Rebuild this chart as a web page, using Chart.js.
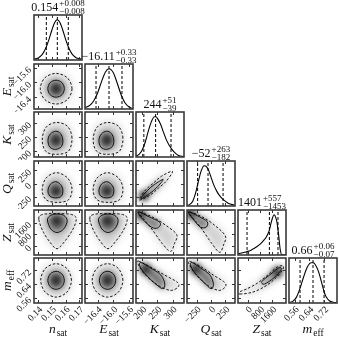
<!DOCTYPE html>
<html>
<head>
<meta charset="utf-8">
<script src="https://cdn.jsdelivr.net/npm/chart.js@4.4.0/dist/chart.umd.min.js"></script>
<style>
html, body { margin: 0; padding: 0; background: #fff; overflow: hidden; }
#wrap { position: relative; width: 339px; height: 339px; }
#wrap canvas { position: absolute; }
</style>
</head>
<body>
<div id="wrap"></div>
<script>
// parameters of the corner plot
var labelMain = ['n', 'E', 'K', 'Q', 'Z', 'm'];
var labelSub = ['sat', 'sat', 'sat', 'sat', 'sat', 'eff'];
var axisMin = [0.137, -16.72, 179, -420, -640, 0.53];
var axisMax = [0.172, -15.50, 338, 420, 2480, 0.79];
var tickVals = [[0.14, 0.15, 0.16, 0.17], [-16.4, -16.0, -15.6], [200, 250, 300], [-250, 0, 250], [0, 800, 1600], [0.56, 0.64, 0.72]];
var tickText = [['0.14', '0.15', '0.16', '0.17'], ['−16.4', '−16.0', '−15.6'], ['200', '250', '300'], ['−250', '0', '250'], ['0', '800', '1600'], ['0.56', '0.64', '0.72']];

// medians and 16/84 % errors
var medians = [0.154, -16.11, 244, -52, 1401, 0.66];
var errPlus = [0.008, 0.33, 51, 263, 557, 0.06];
var errMinus = [0.008, 0.33, 39, 182, 1453, 0.07];
var medText = ['0.154', '−16.11', '244', '−52', '1401', '0.66'];
var plusText = ['+0.008', '+0.33', '+51', '+263', '+557', '+0.06'];
var minusText = ['−0.008', '−0.33', '−39', '−182', '−1453', '−0.07'];

// 1d marginals (relative height)
var nHistX = [0.137, 0.140, 0.142, 0.144, 0.146, 0.148, 0.150, 0.152, 0.154, 0.156, 0.158, 0.160, 0.162, 0.164, 0.166, 0.168, 0.172];
var nHistY = [0.02, 0.05, 0.10, 0.19, 0.33, 0.52, 0.74, 0.93, 1.0, 0.93, 0.74, 0.52, 0.33, 0.19, 0.10, 0.05, 0.02];
var eHistX = [-16.72, -16.6, -16.5, -16.4, -16.3, -16.2, -16.11, -16.0, -15.9, -15.8, -15.7, -15.6, -15.5];
var eHistY = [0.03, 0.09, 0.2, 0.4, 0.68, 0.92, 1.0, 0.9, 0.64, 0.35, 0.15, 0.05, 0.01];
var kHistX = [179, 190, 200, 210, 220, 230, 240, 245, 250, 260, 270, 280, 290, 300, 310, 320, 338];
var kHistY = [0.02, 0.07, 0.18, 0.38, 0.65, 0.88, 1.0, 1.0, 0.96, 0.82, 0.62, 0.42, 0.28, 0.17, 0.09, 0.04, 0.01];
var qHistX = [-420, -370, -320, -270, -220, -170, -120, -80, -40, 0, 50, 100, 150, 200, 250, 300, 360, 420];
var qHistY = [0.01, 0.04, 0.12, 0.32, 0.62, 0.88, 1.0, 0.98, 0.88, 0.72, 0.52, 0.37, 0.26, 0.18, 0.12, 0.07, 0.04, 0.02];
var zHistX = [-640, -400, -200, 0, 200, 400, 600, 800, 1000, 1200, 1400, 1500, 1600, 1700, 1800, 1900, 2000, 2100, 2200, 2480];
var zHistY = [0.03, 0.05, 0.07, 0.09, 0.12, 0.16, 0.21, 0.27, 0.35, 0.45, 0.62, 0.78, 0.92, 1.0, 0.95, 0.8, 0.5, 0.15, 0.01, 0];
var mHistX = [0.53, 0.55, 0.57, 0.59, 0.61, 0.63, 0.65, 0.66, 0.67, 0.69, 0.71, 0.72, 0.73, 0.75, 0.77, 0.79];
var mHistY = [0.01, 0.04, 0.14, 0.37, 0.66, 0.9, 1.0, 1.0, 0.97, 0.78, 0.45, 0.28, 0.16, 0.05, 0.02, 0.01];

// 2d contours: outer (dashed), inner (solid), density peak  [x, y]
var E_n_outer = [[0.1647, -16.17], [0.1613, -15.875], [0.1531, -15.755], [0.1449, -15.875], [0.1416, -16.17], [0.1449, -16.465], [0.1531, -16.585], [0.1613, -16.465]];
var E_n_inner = [[0.1591, -16.17], [0.1574, -16.007], [0.1531, -15.94], [0.1488, -16.007], [0.1471, -16.17], [0.1488, -16.333], [0.1531, -16.40], [0.1574, -16.333]];
var E_n_peak = [[0.1531, -16.17]];

var K_n_outer = [[0.1647, 246], [0.1615, 287], [0.1535, 301], [0.1458, 284], [0.1430, 239], [0.1458, 198], [0.1538, 188.5], [0.1622, 200]];
var K_n_inner = [[0.158, 239], [0.1563, 262], [0.1528, 270], [0.1489, 260], [0.1472, 238], [0.1486, 214], [0.1528, 206], [0.157, 216]];
var K_n_peak = [[0.1531, 239]];
var K_E_outer = [[-15.756, 246], [-15.866, 287], [-16.147, 301], [-16.415, 284], [-16.513, 239], [-16.415, 198], [-16.134, 188.5], [-15.842, 200]];
var K_E_inner = [[-15.988, 239], [-16.049, 262], [-16.171, 270], [-16.305, 260], [-16.366, 238], [-16.317, 214], [-16.171, 206], [-16.025, 216]];
var K_E_peak = [[-16.159, 239]];

var Q_n_outer = [[0.1647, -101], [0.1615, 101], [0.1535, 202], [0.1458, 101], [0.1430, -118], [0.1458, -302], [0.1538, -353], [0.1622, -302]];
var Q_n_inner = [[0.158, -118], [0.1563, -17], [0.1528, 34], [0.1489, -17], [0.1472, -134], [0.1486, -235], [0.1528, -269], [0.157, -235]];
var Q_n_peak = [[0.1531, -143]];
var Q_E_outer = [[-15.756, -101], [-15.866, 101], [-16.147, 202], [-16.415, 101], [-16.513, -118], [-16.415, -302], [-16.134, -353], [-15.842, -302]];
var Q_E_inner = [[-15.988, -118], [-16.049, -17], [-16.171, 34], [-16.305, -17], [-16.366, -134], [-16.317, -235], [-16.171, -269], [-16.025, -235]];
var Q_E_peak = [[-16.159, -143]];
var Q_K_outer = [[190, -305], [226, -215], [253, -87], [279, 42], [300, 228], [264, 138], [237, 9], [211, -120]];
var Q_K_inner = [[195, -285], [224, -189], [248, -73], [269, 75], [240, -19], [216, -135]];
var Q_K_peak = [[205, -230]];

var Z_n_outer = [[0.1405, 1856], [0.1433, 2168], [0.1535, 2230], [0.1643, 2168], [0.1678, 1856], [0.165, 1076], [0.158, 140], [0.1538, -203], [0.1503, 46], [0.144, 920]];
var Z_n_inner = [[0.1468, 1794], [0.14925, 2106], [0.1538, 2199], [0.1587, 2106], [0.1612, 1731], [0.1587, 1170], [0.1538, 920], [0.14925, 1170]];
var Z_n_peak = [[0.1535, 1731]];
var Z_E_outer = [[-16.598, 1856], [-16.50, 2168], [-16.147, 2230], [-15.768, 2168], [-15.646, 1856], [-15.744, 1076], [-15.988, 140], [-16.134, -203], [-16.256, 46], [-16.476, 920]];
var Z_E_inner = [[-16.378, 1794], [-16.293, 2106], [-16.134, 2199], [-15.964, 2106], [-15.878, 1731], [-15.964, 1170], [-16.134, 920], [-16.293, 1170]];
var Z_E_peak = [[-16.147, 1731]];
var Z_K_outer = [[191.7, 2324], [234.7, 1981], [277.6, 1419], [314, 764], [306, 140], [293.5, -390], [266.5, 140], [226.7, 1294], [191.7, 2168]];
var Z_K_inner = [[188.5, 2355], [218.8, 2043], [258.5, 1606], [250.6, 1232], [229.9, 1294], [202.9, 1794], [187, 2230]];
var Z_K_peak = [[194.9, 2168]];
var Z_Q_outer = [[-370, 2324], [-143, 1981], [84, 1357], [252, 670], [218, 46], [151, -453], [17, 140], [-185, 1294], [-370, 2168]];
var Z_Q_inner = [[-378, 2355], [-235, 2074], [-67, 1669], [-84, 1294], [-185, 1294], [-302, 1794], [-386, 2230]];
var Z_Q_peak = [[-353, 2199]];

var m_n_outer = [[0.1643, 0.661], [0.1610, 0.729], [0.1531, 0.757], [0.1452, 0.729], [0.1419, 0.661], [0.1452, 0.593], [0.1531, 0.564], [0.1610, 0.593]];
var m_n_inner = [[0.1591, 0.661], [0.1573, 0.698], [0.1531, 0.713], [0.1489, 0.698], [0.1471, 0.661], [0.1489, 0.624], [0.1531, 0.609], [0.1573, 0.624]];
var m_n_peak = [[0.1531, 0.661]];
var m_E_outer = [[-15.757, 0.661], [-15.871, 0.729], [-16.147, 0.757], [-16.423, 0.729], [-16.537, 0.661], [-16.423, 0.593], [-16.147, 0.564], [-15.871, 0.593]];
var m_E_inner = [[-15.94, 0.661], [-16.0, 0.698], [-16.147, 0.713], [-16.294, 0.698], [-16.354, 0.661], [-16.294, 0.624], [-16.147, 0.609], [-16.0, 0.624]];
var m_E_peak = [[-16.147, 0.661]];
var m_K_outer = [[187, 0.772], [226.7, 0.738], [274.4, 0.691], [315.7, 0.650], [318.9, 0.624], [293.5, 0.603], [250.6, 0.634], [210.8, 0.691], [187, 0.751]];
var m_K_inner = [[194.9, 0.764], [226.7, 0.733], [261.7, 0.691], [274.4, 0.639], [266.5, 0.613], [239.4, 0.647], [207.6, 0.702], [191.7, 0.743]];
var m_K_peak = [[210.8, 0.725]];
var m_Q_outer = [[-378, 0.772], [-168, 0.738], [42, 0.691], [235, 0.650], [252, 0.624], [134, 0.603], [-67, 0.634], [-252, 0.691], [-378, 0.751]];
var m_Q_inner = [[-336, 0.764], [-185, 0.733], [-17, 0.691], [42, 0.639], [0, 0.613], [-118, 0.647], [-277, 0.702], [-353, 0.743]];
var m_Q_peak = [[-269, 0.725]];
var m_Z_outer = [[-515, 0.582], [296, 0.592], [1076, 0.624], [1700, 0.665], [2230, 0.717], [2293, 0.743], [1918, 0.738], [1294, 0.691], [608, 0.644], [-78, 0.611], [-515, 0.595]];
var m_Z_inner = [[1076, 0.639], [1700, 0.676], [2168, 0.722], [2012, 0.733], [1482, 0.696], [920, 0.655]];
var m_Z_peak = [[1918, 0.707]];

var histX = [nHistX, eHistX, kHistX, qHistX, zHistX, mHistX];
var histY = [nHistY, eHistY, kHistY, qHistY, zHistY, mHistY];
var contours = {
  '1_0': [E_n_outer, E_n_inner, E_n_peak],
  '2_0': [K_n_outer, K_n_inner, K_n_peak], '2_1': [K_E_outer, K_E_inner, K_E_peak],
  '3_0': [Q_n_outer, Q_n_inner, Q_n_peak], '3_1': [Q_E_outer, Q_E_inner, Q_E_peak], '3_2': [Q_K_outer, Q_K_inner, Q_K_peak],
  '4_0': [Z_n_outer, Z_n_inner, Z_n_peak], '4_1': [Z_E_outer, Z_E_inner, Z_E_peak], '4_2': [Z_K_outer, Z_K_inner, Z_K_peak], '4_3': [Z_Q_outer, Z_Q_inner, Z_Q_peak],
  '5_0': [m_n_outer, m_n_inner, m_n_peak], '5_1': [m_E_outer, m_E_inner, m_E_peak], '5_2': [m_K_outer, m_K_inner, m_K_peak], '5_3': [m_Q_outer, m_Q_inner, m_Q_peak], '5_4': [m_Z_outer, m_Z_inner, m_Z_peak]
};

// layout
var colL = [34, 85, 136, 187, 238, 289];
var rowT = [15, 64, 112, 161, 210, 258];
var PW = 48, PH = 45;
var SERIF = '"Liberation Serif", "DejaVu Serif", serif';

function smoothPath(ctx, pts) {
  var n = pts.length;
  ctx.beginPath();
  ctx.moveTo(pts[0].x, pts[0].y);
  for (var i = 0; i < n; i++) {
    var p0 = pts[(i - 1 + n) % n], p1 = pts[i], p2 = pts[(i + 1) % n], p3 = pts[(i + 2) % n];
    ctx.bezierCurveTo(p1.x + (p2.x - p0.x) / 6, p1.y + (p2.y - p0.y) / 6,
      p2.x - (p3.x - p1.x) / 6, p2.y - (p3.y - p1.y) / 6, p2.x, p2.y);
  }
  ctx.closePath();
}

var contourPlugin = {
  id: 'contours',
  beforeDatasetsDraw: function (chart) {
    var sets = {};
    chart.data.datasets.forEach(function (ds, k) {
      if (ds.role) {
        sets[ds.role] = chart.getDatasetMeta(k).data.map(function (p) { return { x: p.x, y: p.y }; });
      }
    });
    if (!sets.outer) return;
    var ctx = chart.ctx, a = chart.chartArea;
    ctx.save();
    ctx.beginPath();
    ctx.rect(a.left, a.top, a.width, a.height);
    ctx.clip();
    ctx.filter = 'blur(4px)';
    ctx.fillStyle = '#d0d0d0';
    smoothPath(ctx, sets.outer); ctx.fill();
    ctx.filter = 'blur(3px)';
    ctx.fillStyle = '#727272';
    smoothPath(ctx, sets.inner); ctx.fill();
    var pk = sets.peak[0];
    ctx.fillStyle = '#101010';
    ctx.beginPath(); ctx.arc(pk.x, pk.y, 4.5, 0, Math.PI * 2); ctx.fill();
    ctx.filter = 'none';
    ctx.strokeStyle = '#000';
    ctx.lineWidth = 0.9;
    ctx.setLineDash([]);
    smoothPath(ctx, sets.inner); ctx.stroke();
    ctx.setLineDash([2.5, 1.8]);
    smoothPath(ctx, sets.outer); ctx.stroke();
    ctx.restore();
  }
};

function drawLabel(ctx, main, sub, size) {
  ctx.font = 'italic ' + size + 'px ' + SERIF;
  var w1 = ctx.measureText(main).width;
  ctx.font = (size * 0.7) + 'px ' + SERIF;
  var w2 = ctx.measureText(sub).width;
  var x0 = -(w1 + w2 + 1) / 2;
  ctx.textAlign = 'left';
  ctx.textBaseline = 'alphabetic';
  ctx.font = 'italic ' + size + 'px ' + SERIF;
  ctx.fillText(main, x0, 0);
  ctx.font = (size * 0.7) + 'px ' + SERIF;
  ctx.fillText(sub, x0 + w1 + 1, 2.5);
}

var framePlugin = {
  id: 'frame',
  afterDraw: function (chart, args, o) {
    var ctx = chart.ctx, a = chart.chartArea, xs = chart.scales.x, ys = chart.scales.y;
    ctx.save();
    ctx.strokeStyle = '#333';
    ctx.lineWidth = 1;
    ctx.beginPath();
    tickVals[o.xi].forEach(function (v) {
      var px = Math.round(xs.getPixelForValue(v)) + 0.5;
      ctx.moveTo(px, a.bottom); ctx.lineTo(px, a.bottom - 3);
      ctx.moveTo(px, a.top); ctx.lineTo(px, a.top + 3);
    });
    if (o.yi >= 0) {
      tickVals[o.yi].forEach(function (v) {
        var py = Math.round(ys.getPixelForValue(v)) + 0.5;
        ctx.moveTo(a.left, py); ctx.lineTo(a.left + 3, py);
        ctx.moveTo(a.right, py); ctx.lineTo(a.right - 3, py);
      });
    }
    ctx.stroke();
    ctx.strokeStyle = '#3a3a3a';
    ctx.lineWidth = 1.6;
    ctx.strokeRect(a.left, a.top, a.width, a.height);

    ctx.fillStyle = '#111';
    if (o.bottom) {
      ctx.font = '9.5px ' + SERIF;
      ctx.textAlign = 'right';
      ctx.textBaseline = 'middle';
      tickVals[o.xi].forEach(function (v, k) {
        var px = xs.getPixelForValue(v);
        ctx.save();
        ctx.translate(px + 3, a.bottom + 5);
        ctx.rotate(-Math.PI / 4);
        ctx.fillText(tickText[o.xi][k], 0, 0);
        ctx.restore();
      });
      ctx.save();
      ctx.translate((a.left + a.right) / 2, a.bottom + 30);
      drawLabel(ctx, labelMain[o.xi], labelSub[o.xi], 13.5);
      ctx.restore();
    }
    if (o.left) {
      ctx.font = '9.5px ' + SERIF;
      ctx.textAlign = 'right';
      ctx.textBaseline = 'middle';
      tickVals[o.yi].forEach(function (v, k) {
        var py = ys.getPixelForValue(v);
        ctx.save();
        ctx.translate(a.left - 4, py + 1);
        ctx.rotate(-Math.PI / 4);
        ctx.fillText(tickText[o.yi][k], 0, 0);
        ctx.restore();
      });
      ctx.save();
      ctx.translate(a.left - 23, (a.top + a.bottom) / 2);
      ctx.rotate(-Math.PI / 2);
      drawLabel(ctx, labelMain[o.yi], labelSub[o.yi], 13.5);
      ctx.restore();
    }
    if (o.title >= 0) {
      var t = o.title;
      ctx.textAlign = 'left';
      ctx.textBaseline = 'alphabetic';
      ctx.font = '12px ' + SERIF;
      var wm = ctx.measureText(medText[t]).width;
      ctx.font = '9px ' + SERIF;
      var ws = Math.max(ctx.measureText(plusText[t]).width, ctx.measureText(minusText[t]).width);
      var x0 = (a.left + a.right) / 2 - (wm + ws + 1) / 2;
      ctx.font = '12px ' + SERIF;
      ctx.fillText(medText[t], x0, a.top - 4);
      ctx.font = '9px ' + SERIF;
      ctx.fillText(plusText[t], x0 + wm + 1, a.top - 9);
      ctx.fillText(minusText[t], x0 + wm + 1, a.top - 1);
    }
    ctx.restore();
  }
};

var wrap = document.getElementById('wrap');

function makePanel(i, j) {
  var diag = i === j;
  var pl = j === 0 ? 34 : (diag ? 30 : 3);
  var pr = diag ? 30 : 3;
  var pt = diag ? 16 : 3;
  var pb = i === 5 ? 36 : 3;
  var cv = document.createElement('canvas');
  cv.width = PW + pl + pr;
  cv.height = PH + pt + pb;
  cv.style.left = (colL[j] - pl) + 'px';
  cv.style.top = (rowT[i] - pt) + 'px';
  wrap.appendChild(cv);

  var datasets = [];
  var yMin, yMax;
  if (diag) {
    yMin = 0; yMax = 1.12;
    datasets.push({
      data: histX[j].map(function (x, k) { return { x: x, y: histY[j][k] }; }),
      showLine: true, borderColor: '#000', borderWidth: 1.1, pointRadius: 0,
      cubicInterpolationMode: 'monotone'
    });
    [medians[j] - errMinus[j], medians[j], medians[j] + errPlus[j]].forEach(function (q) {
      datasets.push({
        data: [{ x: q, y: 0 }, { x: q, y: yMax }],
        showLine: true, borderColor: '#000', borderWidth: 1, borderDash: [3, 2], pointRadius: 0
      });
    });
  } else {
    yMin = axisMin[i]; yMax = axisMax[i];
    var c = contours[i + '_' + j];
    ['outer', 'inner', 'peak'].forEach(function (role, k) {
      datasets.push({
        role: role,
        data: c[k].map(function (p) { return { x: p[0], y: p[1] }; }),
        pointRadius: 0, showLine: false
      });
    });
  }

  new Chart(cv, {
    type: 'scatter',
    data: { datasets: datasets },
    options: {
      responsive: false,
      animation: false,
      devicePixelRatio: 1,
      events: [],
      layout: { padding: { left: pl, right: pr, top: pt, bottom: pb } },
      plugins: {
        legend: { display: false },
        tooltip: { enabled: false },
        frame: { xi: j, yi: diag ? -1 : i, left: j === 0 && i > 0, bottom: i === 5, title: diag ? j : -1 }
      },
      scales: {
        x: { type: 'linear', display: false, min: axisMin[j], max: axisMax[j] },
        y: { type: 'linear', display: false, min: yMin, max: yMax }
      }
    },
    plugins: [contourPlugin, framePlugin]
  });
}

for (var i = 0; i < 6; i++) {
  for (var j = 0; j <= i; j++) makePanel(i, j);
}
</script>
</body>
</html>
